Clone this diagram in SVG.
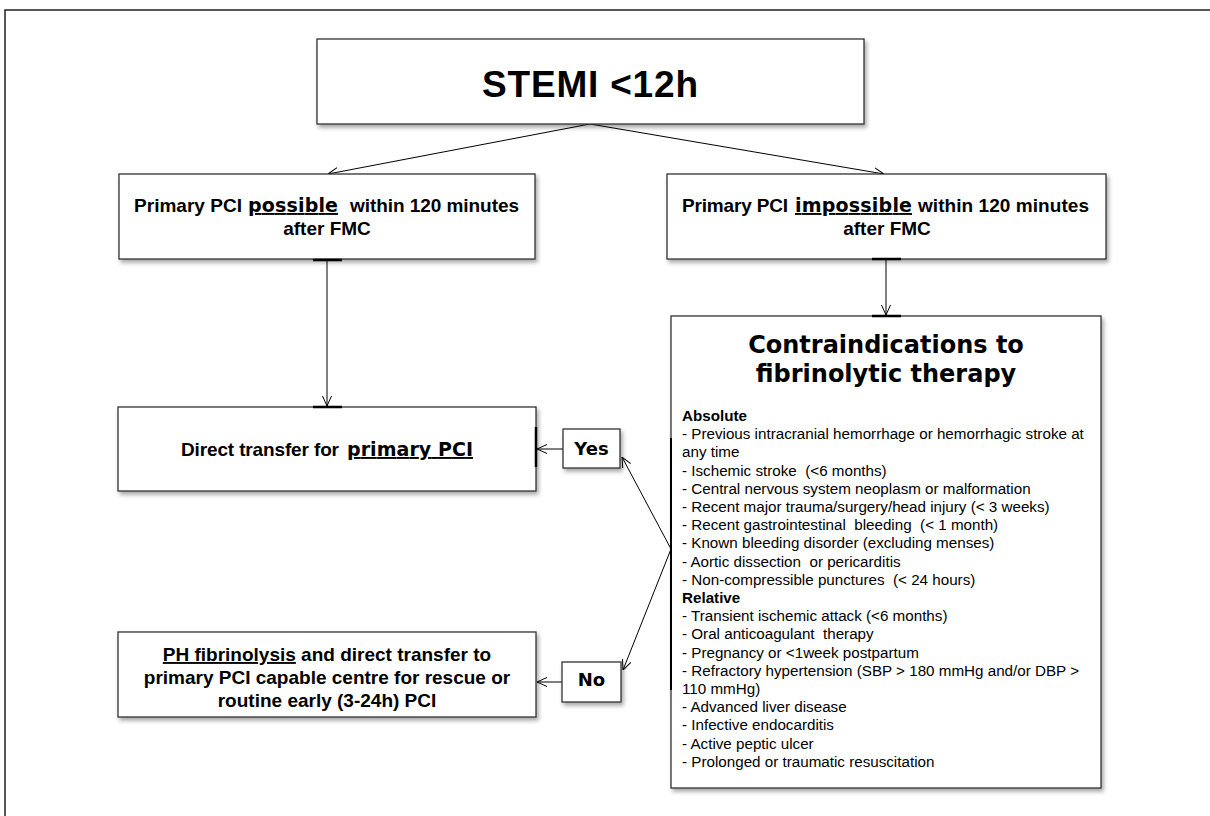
<svg xmlns="http://www.w3.org/2000/svg" width="1210" height="816" viewBox="0 0 1210 816">
<defs>
<filter id="sh" x="-10%" y="-10%" width="130%" height="140%"><feDropShadow dx="2" dy="3" stdDeviation="2" flood-color="#000" flood-opacity="0.35"/></filter>
<marker id="ah" viewBox="0 0 10 10" refX="10" refY="5" markerWidth="10" markerHeight="10" markerUnits="userSpaceOnUse" orient="auto"><path d="M0,0.5 L10,5 L0,9.5" fill="none" stroke="#000" stroke-width="1"/></marker>
</defs>
<style>
.box{fill:#fff;stroke:#333;stroke-width:1.3;filter:url(#sh)}
.t{font-family:"Liberation Sans",Arial,sans-serif;font-weight:bold;font-size:19px;fill:#000}
.w{font-family:"DejaVu Sans",Verdana,sans-serif;font-weight:bold;font-size:19px;fill:#000}
.w18{font-family:"DejaVu Sans",Verdana,sans-serif;font-weight:bold;font-size:18px;fill:#000}
.h{font-family:"DejaVu Sans",Verdana,sans-serif;font-weight:bold;font-size:24px;fill:#000}
.big{font-family:"Liberation Sans",Arial,sans-serif;font-weight:bold;font-size:37px;fill:#000}
.l{font-family:"Liberation Sans",Arial,sans-serif;font-size:15.2px;fill:#000;white-space:pre}
.lb{font-family:"Liberation Sans",Arial,sans-serif;font-size:15.2px;font-weight:bold;fill:#000}
.u{text-decoration:underline}
.c{stroke:#000;fill:none;stroke-width:1}
.tk{stroke:#000;stroke-width:2.5}
</style>
<rect x="0" y="0" width="1210" height="816" fill="#fff"/>
<path d="M5,816 V10 H1210" fill="none" stroke="#222" stroke-width="1.5"/>

<g id="connectors">
<line class="c" x1="590" y1="124" x2="328" y2="174" marker-end="url(#ah)"/>
<line class="c" x1="590" y1="124" x2="884" y2="174" marker-end="url(#ah)"/>
<line class="c" x1="327" y1="260" x2="327" y2="406" stroke-width="2" marker-end="url(#ah)"/>
<line class="c" x1="886" y1="259" x2="886" y2="315" marker-end="url(#ah)"/>
<line class="c" x1="563" y1="449" x2="537" y2="449" marker-end="url(#ah)"/>
<line class="c" x1="671" y1="549" x2="622" y2="457" marker-end="url(#ah)"/>
<line class="c" x1="671" y1="549" x2="623" y2="670" marker-end="url(#ah)"/>
<line class="c" x1="562" y1="682" x2="537" y2="682" marker-end="url(#ah)"/>
</g>

<g id="stemi">
<rect class="box" x="317" y="39" width="547" height="85"/>
<text class="big" x="590" y="97" text-anchor="middle" textLength="216">STEMI &lt;12h</text>
</g>

<g id="pci-possible">
<rect class="box" x="119" y="174" width="416" height="85"/>
<text class="t" x="134" y="212" textLength="108">Primary PCI</text>
<text class="w u" x="248" y="212" textLength="90">possible</text>
<text class="t" x="350" y="212" textLength="169">within 120 minutes</text>
<text class="t" x="327" y="235" text-anchor="middle">after FMC</text>
</g>

<g id="pci-impossible">
<rect class="box" x="667" y="174" width="439" height="85"/>
<text class="t" x="682" y="212" textLength="106">Primary PCI</text>
<text class="w u" x="795" y="212" textLength="117">impossible</text>
<text class="t" x="918" y="212" textLength="171">within 120 minutes</text>
<text class="t" x="887" y="235" text-anchor="middle">after FMC</text>
</g>

<g id="direct-transfer">
<rect class="box" x="118" y="407" width="418" height="84"/>
<text class="t" x="181" y="456" textLength="158">Direct transfer for</text>
<text class="w u" x="347" y="456" textLength="126">primary PCI</text>
</g>

<g id="yes">
<rect class="box" x="563" y="429" width="57" height="39"/>
<text class="w18" x="591.5" y="455" text-anchor="middle">Yes</text>
</g>

<g id="no">
<rect class="box" x="562" y="662" width="59" height="40"/>
<text class="w18" x="591.5" y="686" text-anchor="middle">No</text>
</g>

<g id="ph-fibrinolysis">
<rect class="box" x="118" y="632" width="418" height="85"/>
<text class="t" x="327" y="661" text-anchor="middle"><tspan class="u">PH fibrinolysis</tspan> and direct transfer to</text>
<text class="t" x="327" y="684" text-anchor="middle">primary PCI capable centre for rescue or</text>
<text class="t" x="327" y="707" text-anchor="middle">routine early (3-24h) PCI</text>
</g>

<g id="contraindications">
<rect class="box" x="671" y="316" width="430" height="472"/>
<text class="h" x="886" y="353" text-anchor="middle">Contraindications to</text>
<text class="h" x="886" y="382" text-anchor="middle">fibrinolytic therapy</text>
<text class="lb" x="682" y="421">Absolute</text>
<text class="l" x="682" y="439.2">- Previous intracranial hemorrhage or hemorrhagic stroke at</text>
<text class="l" x="682" y="457.4">any time</text>
<text class="l" x="682" y="475.6">- Ischemic stroke  (&lt;6 months)</text>
<text class="l" x="682" y="493.8">- Central nervous system neoplasm or malformation</text>
<text class="l" x="682" y="512">- Recent major trauma/surgery/head injury (&lt; 3 weeks)</text>
<text class="l" x="682" y="530.2">- Recent gastrointestinal  bleeding  (&lt; 1 month)</text>
<text class="l" x="682" y="548.4">- Known bleeding disorder (excluding menses)</text>
<text class="l" x="682" y="566.6">- Aortic dissection  or pericarditis</text>
<text class="l" x="682" y="584.8">- Non-compressible punctures  (&lt; 24 hours)</text>
<text class="lb" x="682" y="603">Relative</text>
<text class="l" x="682" y="621.2">- Transient ischemic attack (&lt;6 months)</text>
<text class="l" x="682" y="639.4">- Oral anticoagulant  therapy</text>
<text class="l" x="682" y="657.6">- Pregnancy or &lt;1week postpartum</text>
<text class="l" x="682" y="675.8">- Refractory hypertension (SBP &gt; 180 mmHg and/or DBP &gt;</text>
<text class="l" x="682" y="694">110 mmHg)</text>
<text class="l" x="682" y="712.2">- Advanced liver disease</text>
<text class="l" x="682" y="730.4">- Infective endocarditis</text>
<text class="l" x="682" y="748.6">- Active peptic ulcer</text>
<text class="l" x="682" y="766.8">- Prolonged or traumatic resuscitation</text>
</g>

<g id="handles">
<line class="tk" x1="313" y1="260" x2="342" y2="260"/>
<line class="tk" x1="313" y1="407" x2="342" y2="407"/>
<line class="tk" x1="872" y1="259" x2="901" y2="259"/>
<line class="tk" x1="872" y1="316" x2="901" y2="316"/>
<line class="tk" x1="536" y1="427" x2="536" y2="467"/>
<line x1="671" y1="438" x2="671" y2="690" stroke="#000" stroke-width="2"/>
</g>
</svg>
